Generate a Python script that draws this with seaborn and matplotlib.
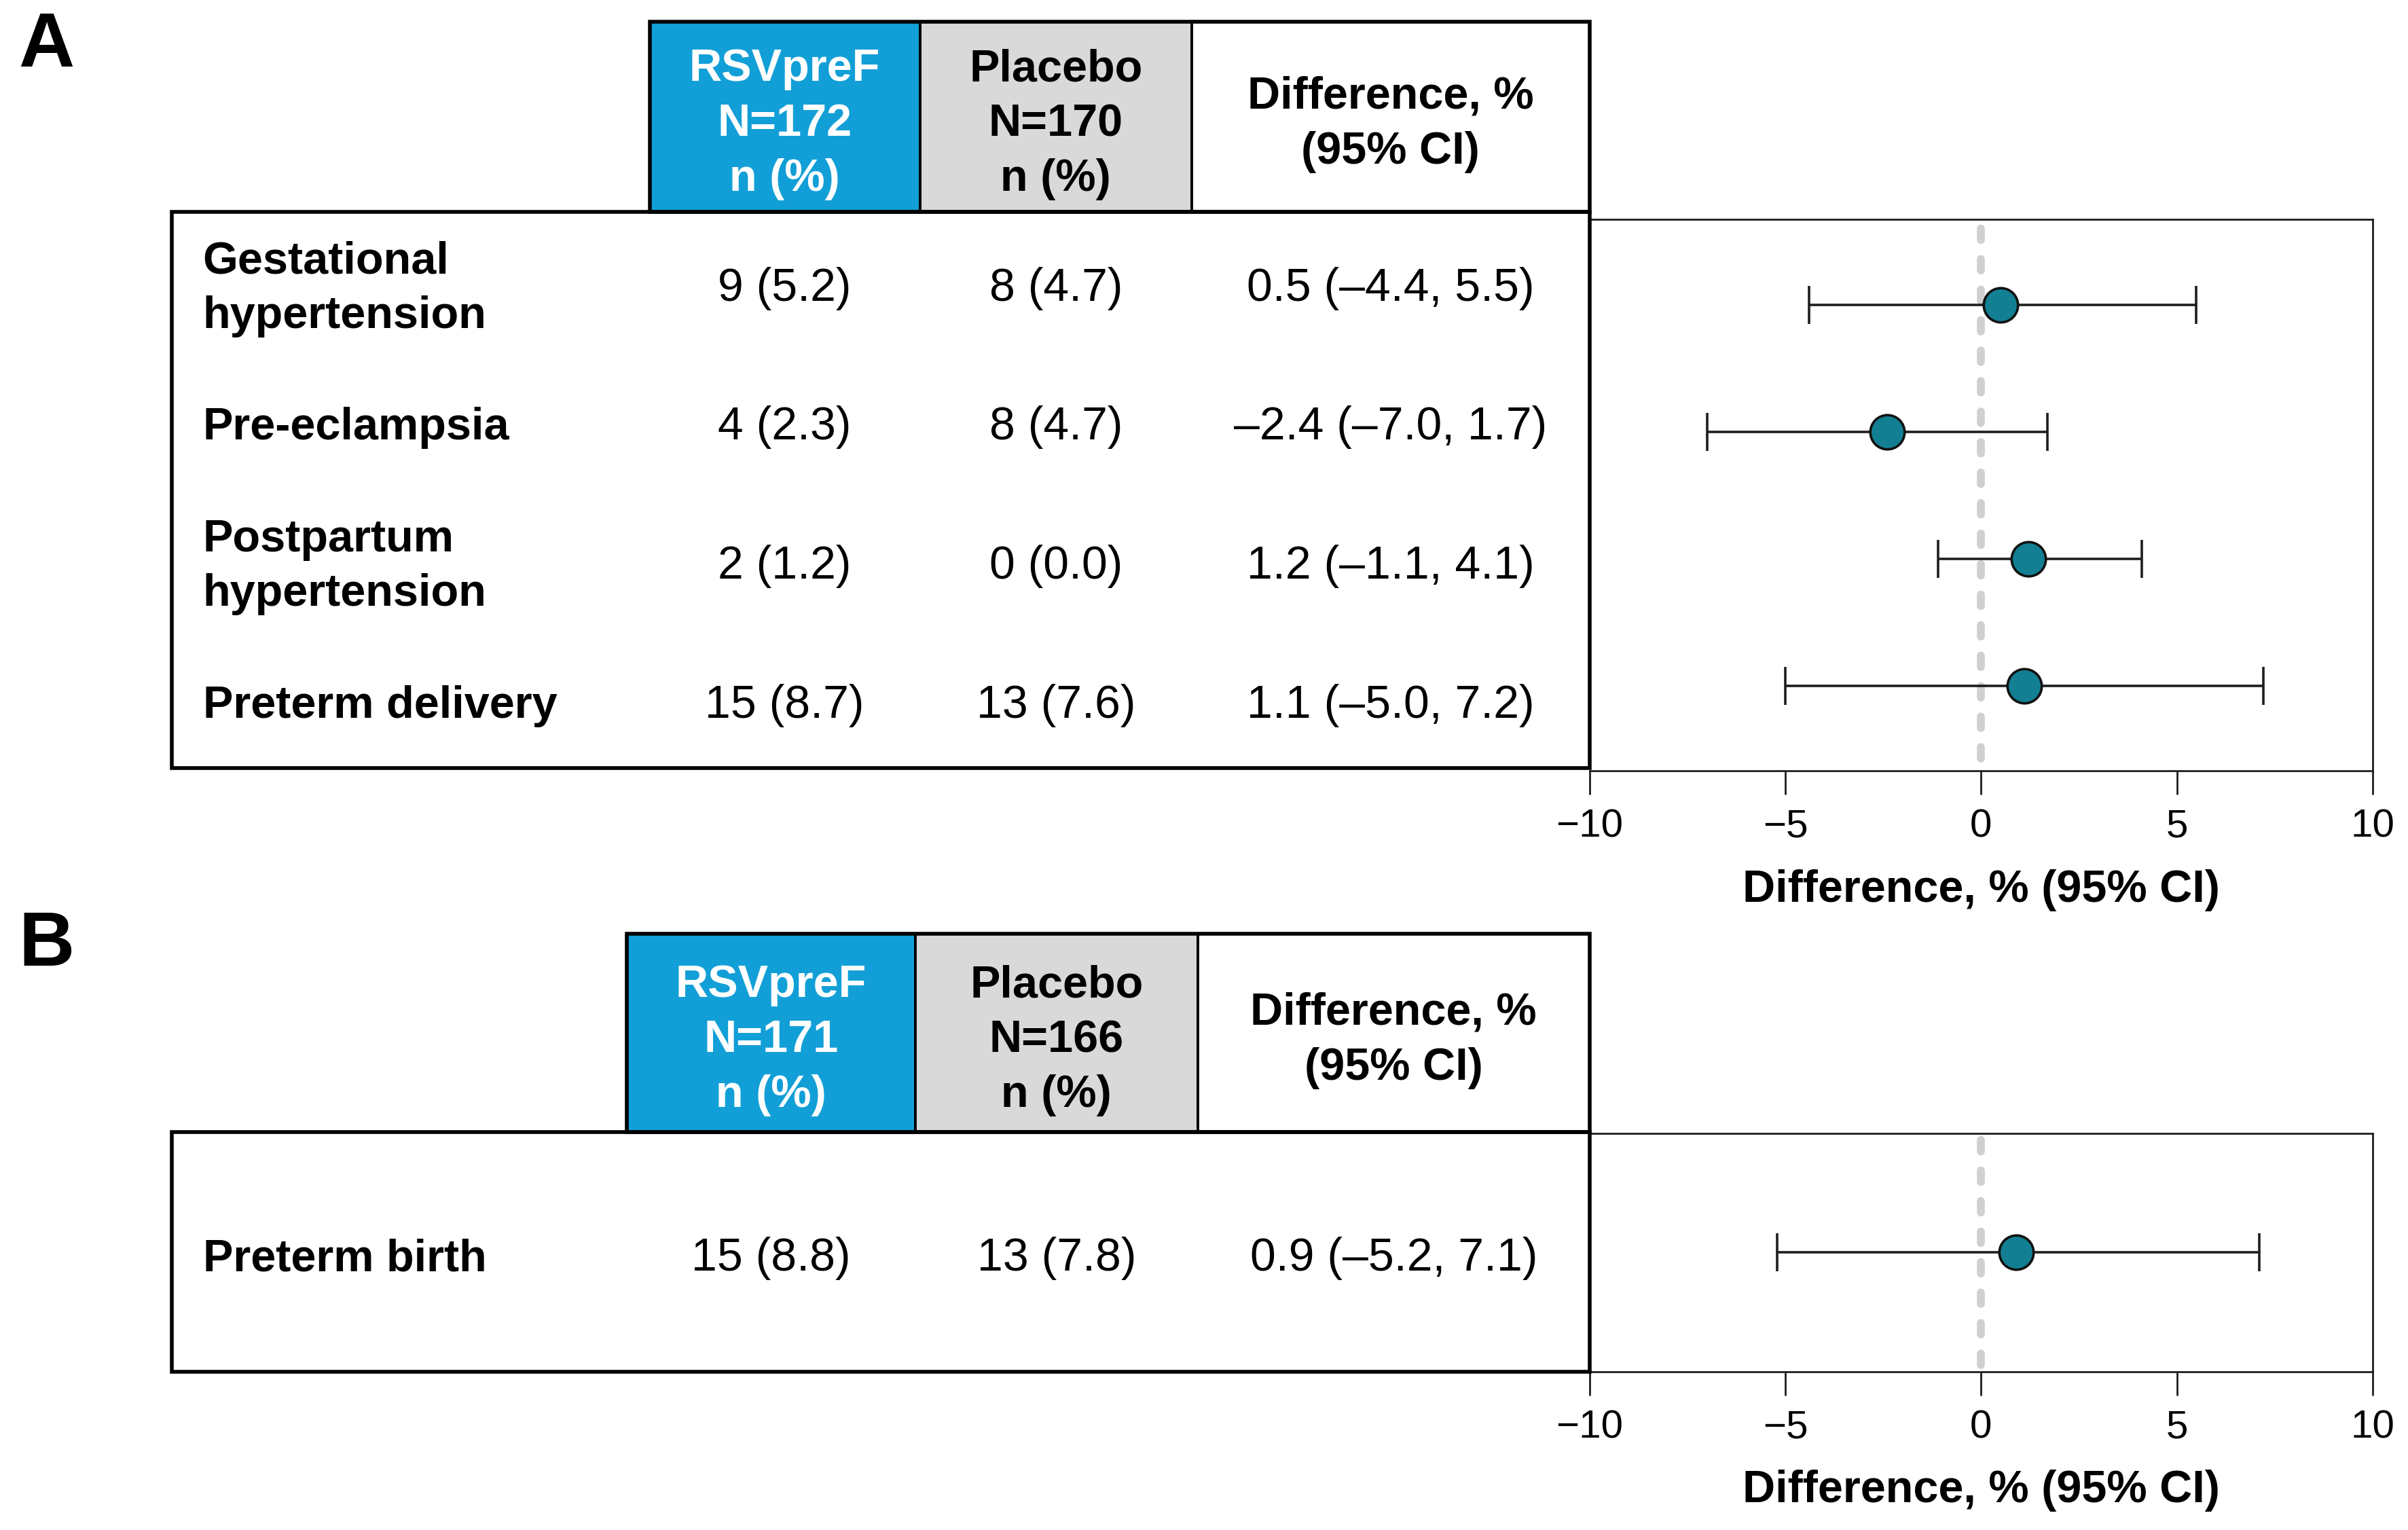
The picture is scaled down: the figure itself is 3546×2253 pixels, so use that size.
import numpy as np
import pandas as pd
import matplotlib
matplotlib.use("Agg")
import matplotlib.pyplot as plt
import seaborn as sns
from matplotlib.patches import Rectangle

# ---------------- data ----------------
outcomes_a = ["Gestational\nhypertension", "Pre-eclampsia", "Postpartum\nhypertension", "Preterm delivery"]
rsv_a = ["9 (5.2)", "4 (2.3)", "2 (1.2)", "15 (8.7)"]
pbo_a = ["8 (4.7)", "8 (4.7)", "0 (0.0)", "13 (7.6)"]
diff_a = [0.5, -2.4, 1.2, 1.1]
lo_a = [-4.4, -7.0, -1.1, -5.0]
hi_a = [5.5, 1.7, 4.1, 7.2]
header_a = ["RSVpreF\nN=172\nn (%)", "Placebo\nN=170\nn (%)", "Difference, %\n(95% CI)"]

outcomes_b = ["Preterm birth"]
rsv_b = ["15 (8.8)"]
pbo_b = ["13 (7.8)"]
diff_b = [0.9]
lo_b = [-5.2]
hi_b = [7.1]
header_b = ["RSVpreF\nN=171\nn (%)", "Placebo\nN=166\nn (%)", "Difference, %\n(95% CI)"]

xticks = [-10, -5, 0, 5, 10]
xlabel = "Difference, % (95% CI)"
panel_labels = ["A", "B"]

# ---------------- style ----------------
sns.set_style("white")
plt.rcParams["font.family"] = ["Liberation Sans", "DejaVu Sans"]
plt.rcParams["text.color"] = "black"
plt.rcParams["axes.labelcolor"] = "black"

BLUE = "#129fd7"
GREY = "#d9d9d9"
TEAL = "#137f92"
W, H = 1568.0, 996.25          # layout units (pixel grid of the layout)
LINE = 35.8                    # line spacing in layout units
CAPOFF = 11.0                  # baseline offset from line centre

fig = plt.figure(figsize=(3546 / 200, 2253 / 200), dpi=200)
lay = fig.add_axes([0, 0, 1, 1], zorder=5)
lay.set_xlim(0, W)
lay.set_ylim(H, 0)
lay.axis("off")


def frac(x0, y0, x1, y1):
    return [x0 / W, 1 - y1 / H, (x1 - x0) / W, (y1 - y0) / H]


def fmt_diff(d, lo, hi):
    return f"{d:.1f} ({lo:.1f}, {hi:.1f})".replace("-", "\u2013")


def lines_text(cx, cy, txt, ha="center", **kw):
    parts = txt.split("\n")
    n = len(parts)
    for i, p in enumerate(parts):
        yc = cy + (i - (n - 1) / 2) * LINE
        lay.text(cx, yc + CAPOFF, p, ha=ha, va="baseline", **kw)


def panel(label, label_y, header, head_cols, head_top, head_bot, body_bot,
          outcomes, rsv, pbo, dif, lo, hi, forest_top, forest_bot, dash_bot):
    # panel letter
    lay.text(12, label_y, label, fontsize=41, fontweight="bold", va="baseline", ha="left",
             color="black")
    # header cells
    fills = [BLUE, GREY, "white"]
    tcolors = ["white", "black", "black"]
    for (x0, x1), f, tc, h in zip(head_cols, fills, tcolors, header):
        lay.add_patch(Rectangle((x0, head_top), x1 - x0, head_bot - head_top,
                                facecolor=f, edgecolor="black", lw=1.4, zorder=1))
        lines_text((x0 + x1) / 2, (head_top + head_bot) / 2 + 1.5, h,
                   fontsize=24, fontweight="bold", color=tc)
    lay.add_patch(Rectangle((head_cols[0][0], head_top), head_cols[-1][1] - head_cols[0][0],
                            head_bot - head_top, fill=False, edgecolor="black", lw=2.0, zorder=2))
    # body
    lay.add_patch(Rectangle((112, head_bot), 1035 - 112, body_bot - head_bot,
                            fill=False, edgecolor="black", lw=2.0, zorder=2))
    nrow = len(outcomes)
    rh = (body_bot - head_bot) / nrow
    centers = [(c0 + c1) / 2 for c0, c1 in head_cols]
    for i in range(nrow):
        cy = head_bot + (i + 0.5) * rh + 1.5
        lines_text(132, cy, outcomes[i], ha="left", fontsize=24, fontweight="bold", color="black")
        lines_text(centers[0], cy, rsv[i], fontsize=24.5, color="black")
        lines_text(centers[1], cy, pbo[i], fontsize=24.5, color="black")
        lines_text(centers[2], cy, fmt_diff(dif[i], lo[i], hi[i]), fontsize=24.5, color="black")

    # forest plot
    ax = fig.add_axes(frac(1035, forest_top, 1545, forest_bot), zorder=3)
    ax.set_facecolor("none")
    df = pd.DataFrame({"diff": dif, "lo": lo, "hi": hi, "row": np.arange(nrow)})
    ax.errorbar(df["diff"], df["row"], xerr=[df["diff"] - df["lo"], df["hi"] - df["diff"]],
                fmt="none", ecolor="#1e1e1e", elinewidth=1.3, capsize=10, capthick=1.3, zorder=2)
    sns.scatterplot(data=df, x="diff", y="row", ax=ax, s=330, color=TEAL,
                    edgecolor="#111111", linewidth=1.3, zorder=3, legend=False)
    ax.set_xlim(xticks[0], xticks[-1])
    ax.set_ylim(nrow - 1 + 0.67 if nrow > 1 else 0.5, -0.67 if nrow > 1 else -0.5)
    ybot = (forest_bot - dash_bot) / (forest_bot - forest_top)
    ax.axvline(0, ymin=ybot, ymax=0.99, color="#d0d0d0", lw=4.2,
               dashes=(1.45, 2.4), dash_capstyle="round", zorder=1)
    ax.set_xticks(xticks)
    ax.set_yticks([])
    ax.set_ylabel("")
    ax.set_xlabel(xlabel, fontsize=24, fontweight="bold", labelpad=12.5, color="black")
    ax.tick_params(axis="x", bottom=True, length=12.5, width=1.0, direction="out",
                   labelsize=21, pad=7.5, color="#1e1e1e", labelcolor="black")
    for s in ["top", "right", "bottom"]:
        ax.spines[s].set_visible(True)
        ax.spines[s].set_linewidth(1.0)
        ax.spines[s].set_color("#1e1e1e")
    ax.spines["left"].set_visible(False)
    return ax


panel(panel_labels[0], 43.5, header_a, [(423, 599), (599, 776), (776, 1035)], 14, 138, 500,
      outcomes_a, rsv_a, pbo_a, diff_a, lo_a, hi_a, 143, 502, 494)
panel(panel_labels[1], 628.6, header_b, [(408, 596), (596, 780), (780, 1035)], 608, 737, 893,
      outcomes_b, rsv_b, pbo_b, diff_b, lo_b, hi_b, 738, 893, 889)

fig.savefig("out.png", dpi=200, facecolor="white")
